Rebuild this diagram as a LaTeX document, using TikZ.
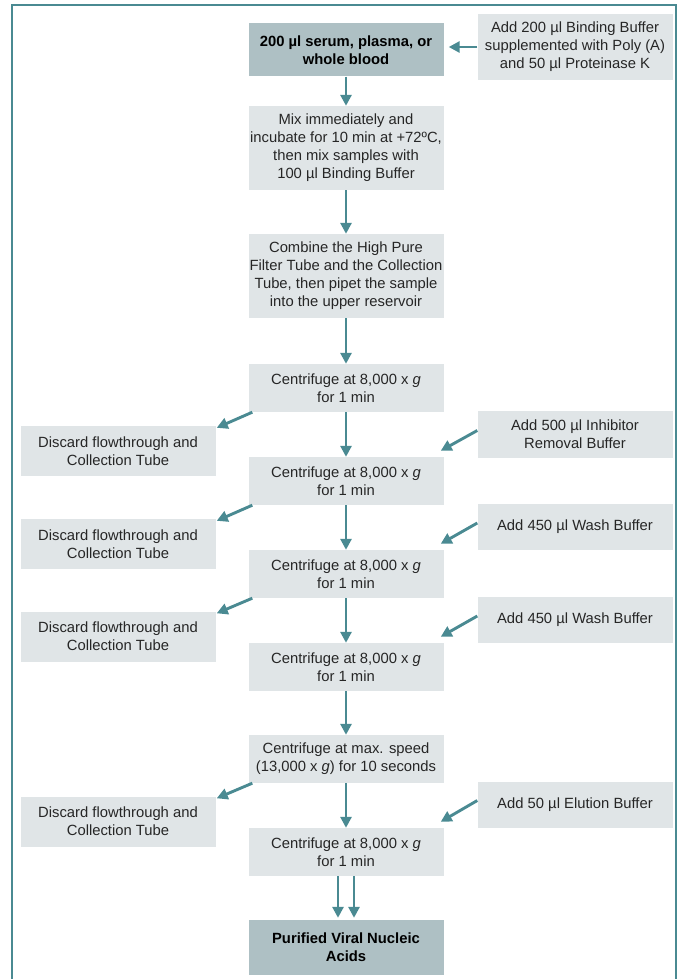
\documentclass[tikz,border=0pt]{standalone}
\usepackage{fontspec}
\setmainfont{Liberation Sans}
\usetikzlibrary{arrows.meta}
\definecolor{boxgrey}{HTML}{E0E5E7}
\definecolor{boxdark}{HTML}{AEC0C4}
\definecolor{flowteal}{HTML}{4A8A92}
\tikzset{
  stepbox/.style={fill=boxgrey, align=center, inner sep=0pt,
    minimum width=195pt, minimum height=48pt, text=black!85,
    font=\fontsize{14.8}{18}\selectfont},
  keybox/.style={stepbox, fill=boxdark, text=black,
    font=\fontsize{14.8}{18}\selectfont\bfseries},
  flow/.style={draw=flowteal, line width=2.9pt,
    -{Triangle[width=11pt,length=11pt]}},
}
\newcommand{\cfg}{Centrifuge at 8,000 x \textit{g}\\for 1 min}
\newcommand{\discard}{Discard flowthrough and\\Collection Tube}
\begin{document}
\begin{tikzpicture}[x=1pt,y=-1pt]
    \useasboundingbox (0,0) rectangle (681,979);
    \draw [flowteal, line width=1.2pt] (12,979) -- (12,5) -- (676,5) -- (676,979);

    \node[keybox, minimum height=53pt] (S)  at (346,50)  {200 µl serum, plasma, or\\whole blood};
    \node[stepbox, minimum height=66pt] (A1) at (575,47) {Add 200 µl Binding Buffer\\supplemented with Poly (A)\\and 50 µl Proteinase K};
    \node[stepbox, minimum height=84pt] (M)  at (346,148) {Mix immediately and\\incubate for 10 min at +72ºC,\\then mix samples with\\100 µl Binding Buffer};
    \node[stepbox, minimum height=84pt] (F)  at (346,276) {Combine the High Pure\\Filter Tube and the Collection\\Tube, then pipet the sample\\into the upper reservoir};

    \node[stepbox] (C1) at (346,388) {\cfg};
    \node[stepbox, minimum height=50pt] (D1) at (118,451) {\discard};
    \node[stepbox, minimum height=47pt] (A2) at (575,434.5) {Add 500 µl Inhibitor\\Removal Buffer};
    \node[stepbox] (C2) at (346,481) {\cfg};

    \node[stepbox, minimum height=50pt] (D2) at (118,544) {\discard};
    \node[stepbox, minimum height=46pt] (A3) at (575,527) {Add 450 µl Wash Buffer};
    \node[stepbox] (C3) at (346,574) {\cfg};

    \node[stepbox, minimum height=50pt] (D3) at (118,636.5) {\discard};
    \node[stepbox, minimum height=46pt] (A4) at (575,620) {Add 450 µl Wash Buffer};
    \node[stepbox] (C4) at (346,667) {\cfg};

    \node[stepbox] (C5) at (346,759) {Centrifuge at max. speed\\(13,000 x \textit{g}) for 10 seconds};
    \node[stepbox, minimum height=50pt] (D4) at (118,821.5) {\discard};
    \node[stepbox, minimum height=46pt] (A5) at (575,804.5) {Add 50 µl Elution Buffer};
    \node[stepbox] (C6) at (346,852) {\cfg};

    \node[keybox, minimum height=55pt] (P) at (346,947.5) {Purified Viral Nucleic\\Acids};

    \draw [flow, shorten >=5pt] (A1.west) -- (A1.west -| S.east);
    \draw [flow] (S) -- (M);
    \draw [flow] (M) -- (F);
    \draw [flow] (F) -- (C1);
    \draw [flow] (C1) -- (C2);
    \draw [flow] (C2) -- (C3);
    \draw [flow] (C3) -- (C4);
    \draw [flow] (C4) -- (C5);
    \draw [flow] (C5) -- (C6);
    \draw [flow, shorten >=2pt] ([xshift=-8pt]C6.south) -- ([xshift=-8pt]P.north);
    \draw [flow, shorten >=2pt] ([xshift=8pt]C6.south) -- ([xshift=8pt]P.north);

    \draw [flow] ([shift={(4,0)}]C1.south west) -- ([shift={(1,2)}]D1.north east);
    \draw [flow] ([shift={(4,0)}]C2.south west) -- ([shift={(1,2)}]D2.north east);
    \draw [flow] ([shift={(4,0)}]C3.south west) -- ([shift={(1,2)}]D3.north east);
    \draw [flow] ([shift={(4,0)}]C5.south west) -- ([shift={(1,2)}]D4.north east);

    \draw [flow] ([shift={(0,-4)}]A2.west) -- ([shift={(-3,-6)}]C2.north east);
    \draw [flow] ([shift={(0,-4)}]A3.west) -- ([shift={(-3,-6)}]C3.north east);
    \draw [flow] ([shift={(0,-4)}]A4.west) -- ([shift={(-3,-6)}]C4.north east);
    \draw [flow] ([shift={(0,-4)}]A5.west) -- ([shift={(-3,-6)}]C6.north east);
\end{tikzpicture}
\end{document}
